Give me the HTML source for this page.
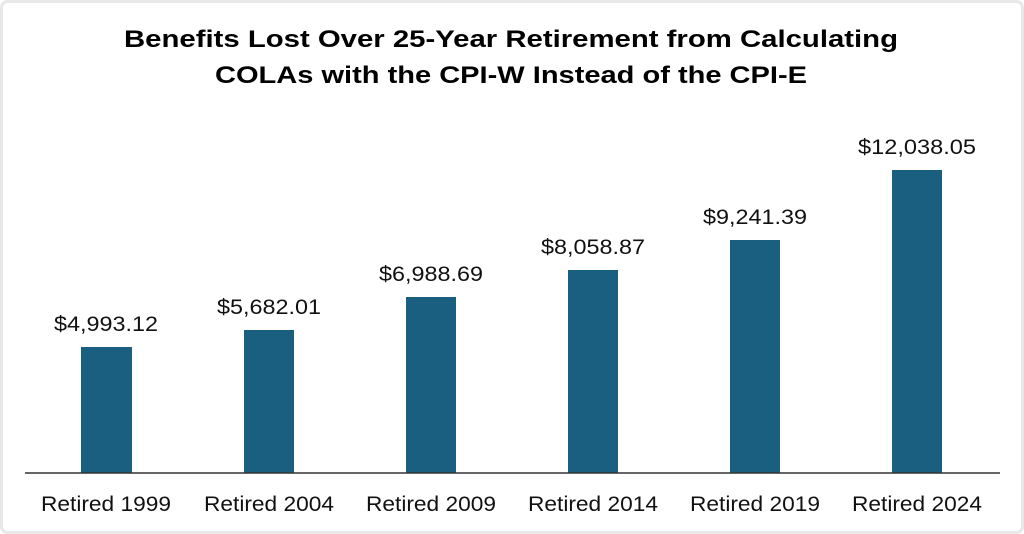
<!DOCTYPE html>
<html><head><style>body{margin:0;background:#fff}svg{display:block}</style></head><body>
<svg width="1024" height="534" xmlns="http://www.w3.org/2000/svg" font-family="Liberation Sans, sans-serif">
<rect x="1.5" y="1.5" width="1021" height="531" rx="6" fill="#fff" stroke="#e8e8e8" stroke-width="3"/>
<text x="511" y="47" font-size="24" font-weight="bold" text-anchor="middle" textLength="774" lengthAdjust="spacingAndGlyphs">Benefits Lost Over 25-Year Retirement from Calculating</text>
<text x="511" y="83" font-size="24" font-weight="bold" text-anchor="middle" textLength="592" lengthAdjust="spacingAndGlyphs">COLAs with the CPI-W Instead of the CPI-E</text>
<g fill="#1a5f80">
<rect x="81" y="347" width="51" height="126"/>
<rect x="244" y="330" width="50" height="143"/>
<rect x="406" y="297" width="50" height="176"/>
<rect x="568" y="270" width="50" height="203"/>
<rect x="730" y="240" width="50" height="233"/>
<rect x="892" y="170" width="50" height="303"/>
</g>
<line x1="25" y1="473" x2="1000" y2="473" stroke="#333" stroke-width="1.5"/>
<g font-size="21" text-anchor="middle" fill="#111" lengthAdjust="spacingAndGlyphs">
<text x="106" y="331" textLength="104" lengthAdjust="spacingAndGlyphs">$4,993.12</text>
<text x="269" y="314" textLength="104" lengthAdjust="spacingAndGlyphs">$5,682.01</text>
<text x="431" y="281" textLength="104" lengthAdjust="spacingAndGlyphs">$6,988.69</text>
<text x="593" y="254" textLength="104" lengthAdjust="spacingAndGlyphs">$8,058.87</text>
<text x="755" y="224" textLength="104" lengthAdjust="spacingAndGlyphs">$9,241.39</text>
<text x="917" y="154" textLength="118" lengthAdjust="spacingAndGlyphs">$12,038.05</text>
<text x="106" y="511" textLength="130" lengthAdjust="spacingAndGlyphs">Retired 1999</text>
<text x="269" y="511" textLength="130" lengthAdjust="spacingAndGlyphs">Retired 2004</text>
<text x="431" y="511" textLength="130" lengthAdjust="spacingAndGlyphs">Retired 2009</text>
<text x="593" y="511" textLength="130" lengthAdjust="spacingAndGlyphs">Retired 2014</text>
<text x="755" y="511" textLength="130" lengthAdjust="spacingAndGlyphs">Retired 2019</text>
<text x="917" y="511" textLength="130" lengthAdjust="spacingAndGlyphs">Retired 2024</text>
</g>
</svg>
</body></html>
